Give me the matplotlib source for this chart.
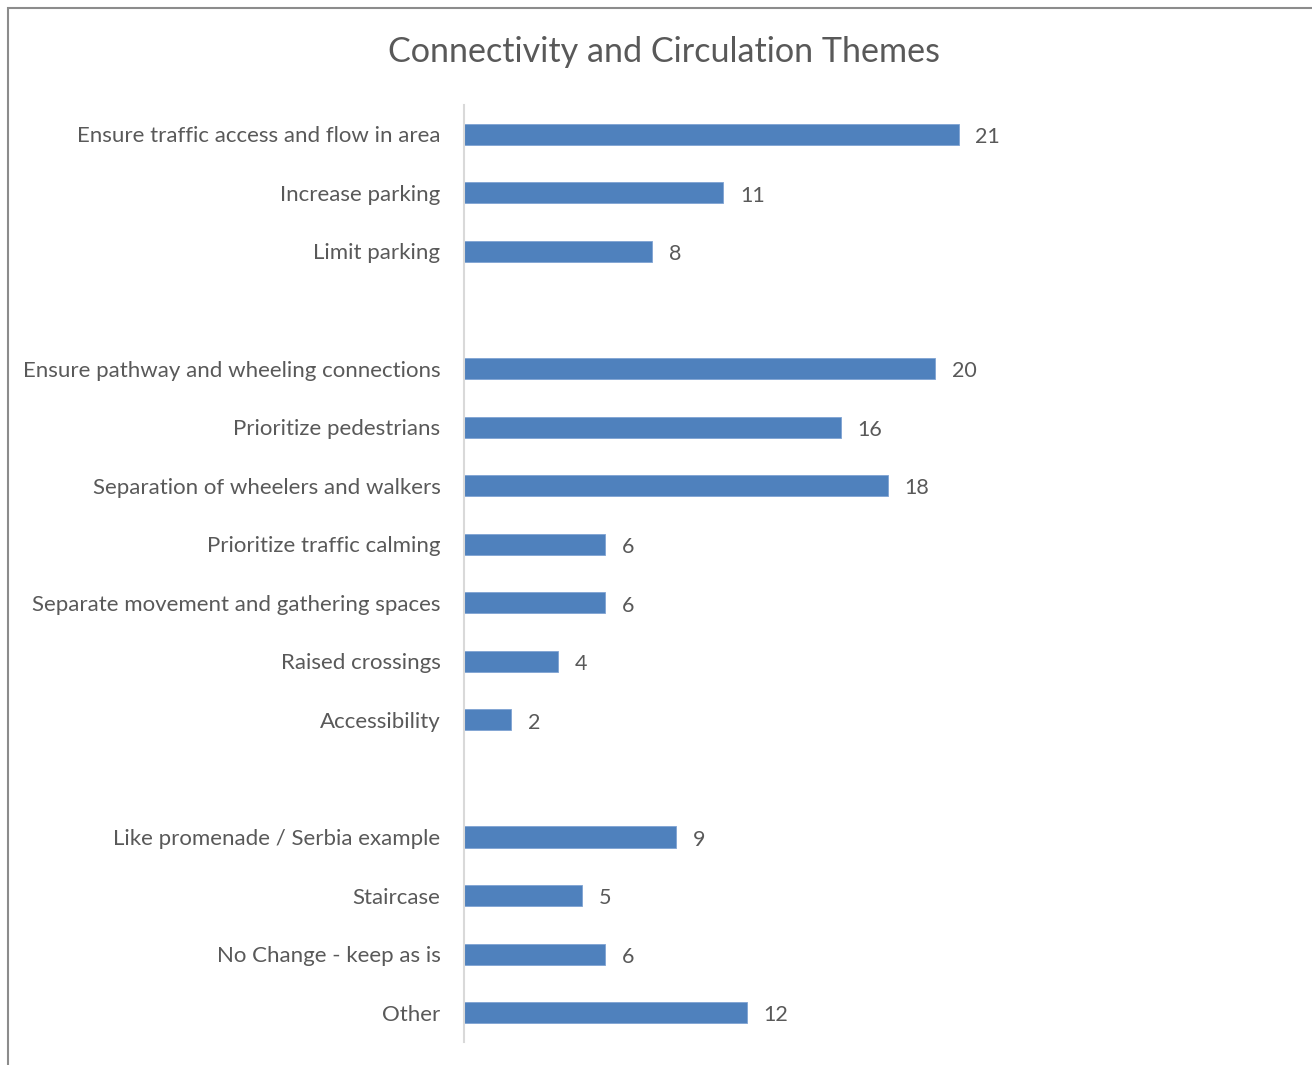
"""Connectivity and Circulation Themes - horizontal bar chart."""
import matplotlib.pyplot as plt
from matplotlib.patches import Rectangle

# categories top to bottom, None = empty spacer row
labels = [
    "Ensure traffic access and flow in area",
    "Increase parking",
    "Limit parking",
    None,
    "Ensure pathway and wheeling connections",
    "Prioritize pedestrians",
    "Separation of wheelers and walkers",
    "Prioritize traffic calming",
    "Separate movement and gathering spaces",
    "Raised crossings",
    "Accessibility",
    None,
    "Like promenade / Serbia example",
    "Staircase",
    "No Change - keep as is",
    "Other",
]
counts = [21, 11, 8, None, 20, 16, 18, 6, 6, 4, 2, None, 9, 5, 6, 12]

BAR_COLOR = "#4F81BD"
TEXT_COLOR = "#595959"

plt.rcParams["font.family"] = ["Lato", "DejaVu Sans"]

W, H = 1312, 1065
fig = plt.figure(figsize=(W / 100, H / 100), dpi=100)

# chart border (cropped on right/bottom in the original)
fig.patches.append(Rectangle((8 / W, -0.01), 1.1, 1 - 8 / H + 0.01,
                             transform=fig.transFigure, fill=False,
                             edgecolor="#8c8c8c", linewidth=1.5))

ax = fig.add_axes([464 / W, 1 - 1042 / H, (1053 - 464) / W, (1042 - 105) / H])

n = len(labels)
ypos = list(range(n))
for y, lab, val in zip(ypos, labels, counts):
    if val is None:
        continue
    ax.barh(y, val, height=0.36, color=BAR_COLOR, edgecolor="#7fa3d3", linewidth=0.6)
    ax.annotate(str(val), (val, y), xytext=(12, -2), textcoords="offset points",
                va="center", ha="left", fontsize=15.5, color=TEXT_COLOR)

ax.set_yticks([y for y, lab in zip(ypos, labels) if lab is not None])
ax.set_yticklabels([lab for lab in labels if lab is not None], fontsize=16, color=TEXT_COLOR)
ax.tick_params(axis="y", length=0, pad=17)
ax.set_ylim(n - 0.5, -0.5)
ax.set_xlim(0, 25)
ax.set_xticks([])

for side in ("top", "right", "bottom"):
    ax.spines[side].set_visible(False)
ax.spines["left"].set_color("#d9d9d9")
ax.spines["left"].set_linewidth(1.5)

fig.text(664 / W, 1 - 52 / H, "Connectivity and Circulation Themes",
         ha="center", va="center", fontsize=24.6, color=TEXT_COLOR)

fig.savefig("out.png", dpi=100)
